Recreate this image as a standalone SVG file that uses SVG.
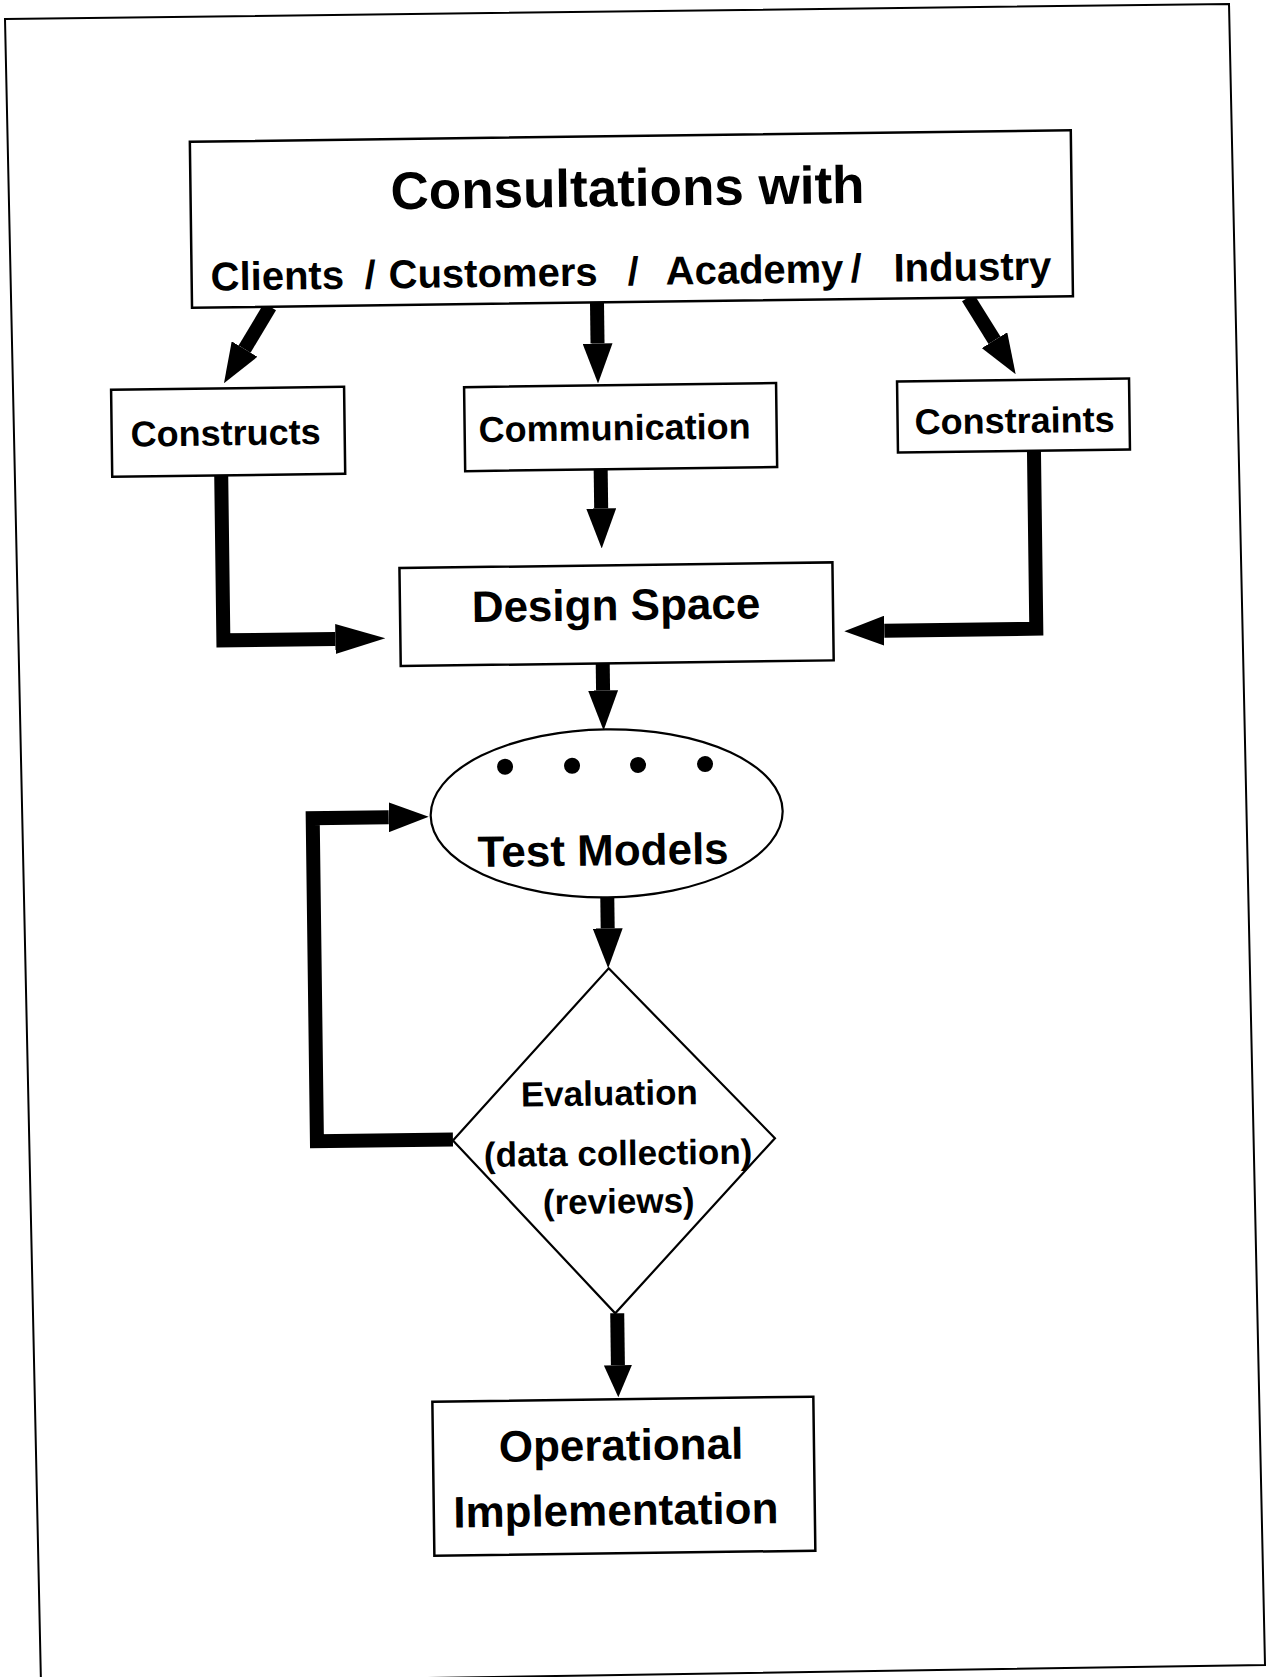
<svg xmlns="http://www.w3.org/2000/svg" width="1268" height="1677" viewBox="0 0 1268 1677">
<style>
.box{fill:#fff;stroke:#000;stroke-width:2.5}
.t{font-family:"Liberation Sans",Arial,Helvetica,sans-serif;font-weight:bold;fill:#000}
.m{text-anchor:middle}
.c{stroke:#000;stroke-width:14;fill:none;stroke-linejoin:miter;stroke-linecap:butt}
</style>
<defs>
<marker id="ah" viewBox="0 -15 40 30" refX="0" refY="0" markerWidth="40" markerHeight="30" markerUnits="userSpaceOnUse" orient="auto"><path d="M0,-15 L40,0 L0,15 z" fill="#000"/></marker>
<marker id="ahl" viewBox="0 -15 50 30" refX="0" refY="0" markerWidth="50" markerHeight="30" markerUnits="userSpaceOnUse" orient="auto"><path d="M0,-15 L50,0 L0,15 z" fill="#000"/></marker>
<marker id="ahs" viewBox="0 -14 32 28" refX="0" refY="0" markerWidth="32" markerHeight="28" markerUnits="userSpaceOnUse" orient="auto"><path d="M0,-14 L32,0 L0,14 z" fill="#000"/></marker>
</defs>
<rect width="1268" height="1677" fill="#fff"/>
<polygon id="frame" points="5,19 1229,4 1265,1665 41,1684" fill="none" stroke="#000" stroke-width="2"/>
<g transform="rotate(-0.75 634 838)">
<g id="connectors">
<line class="c" x1="277" y1="302" x2="251" y2="344" marker-end="url(#ah)"/>
<line class="c" x1="604" y1="302" x2="604" y2="343" marker-end="url(#ah)"/>
<line class="c" x1="975" y1="302" x2="1001" y2="345" marker-end="url(#ah)"/>
<polyline class="c" points="226,470 226,635 338,635" marker-end="url(#ahl)"/>
<polyline class="c" points="1039,456 1039,634 887,634" marker-end="url(#ah)"/>
<line class="c" x1="605.5" y1="469" x2="605.5" y2="508" marker-end="url(#ah)"/>
<line class="c" x1="605" y1="663" x2="605" y2="690" marker-end="url(#ah)"/>
<line class="c" x1="606.5" y1="897" x2="606.5" y2="928" marker-end="url(#ah)"/>
<line class="c" x1="611" y1="1313" x2="611" y2="1365" marker-end="url(#ahs)"/>
<polyline class="c" points="449,1137 313,1137 313,814 389,814" marker-end="url(#ah)"/>
</g>
<g id="consultations">
<rect class="box" x="199" y="136" width="881" height="166"/>
<text class="t m" x="636" y="206" font-size="53">Consultations with</text>
<text class="t" y="285" font-size="40"><tspan x="218">Clients</tspan><tspan x="372">/</tspan><tspan x="396">Customers</tspan><tspan x="635">/</tspan><tspan x="673">Academy</tspan><tspan x="858">/</tspan><tspan x="901">Industry</tspan></text>
</g>
<g id="constructs">
<rect class="box" x="117" y="383" width="233" height="87"/>
<text class="t m" x="231" y="440" font-size="36">Constructs</text>
</g>
<g id="communication">
<rect class="box" x="470" y="385" width="312" height="84"/>
<text class="t m" x="620" y="440" font-size="36">Communication</text>
</g>
<g id="constraints">
<rect class="box" x="903" y="385" width="232" height="71"/>
<text class="t m" x="1020" y="438" font-size="36">Constraints</text>
</g>
<g id="design-space">
<rect class="box" x="403" y="565" width="433" height="98"/>
<text class="t m" x="619" y="620" font-size="44">Design Space</text>
</g>
<g id="test-models">
<ellipse cx="607" cy="813" rx="176" ry="84" fill="#fff" stroke="#000" stroke-width="2.2"/>
<circle cx="506" cy="765" r="8"/>
<circle cx="573" cy="765" r="8"/>
<circle cx="639" cy="765" r="8"/>
<circle cx="706" cy="765" r="8"/>
<text class="t m" x="603" y="865" font-size="44">Test Models</text>
</g>
<g id="evaluation">
<polygon points="607,968 771,1140 609,1313 449,1138" fill="#fff" stroke="#000" stroke-width="2.2"/>
<text class="t m" x="606" y="1105" font-size="35">Evaluation</text>
<text class="t m" x="614" y="1165" font-size="35">(data collection)</text>
<text class="t m" x="614" y="1213" font-size="35">(reviews)</text>
</g>
<g id="operational">
<rect class="box" x="425" y="1399" width="381" height="154"/>
<text class="t m" x="613" y="1460" font-size="44">Operational</text>
<text class="t m" x="607" y="1525" font-size="44">Implementation</text>
</g>
</g>
</svg>
